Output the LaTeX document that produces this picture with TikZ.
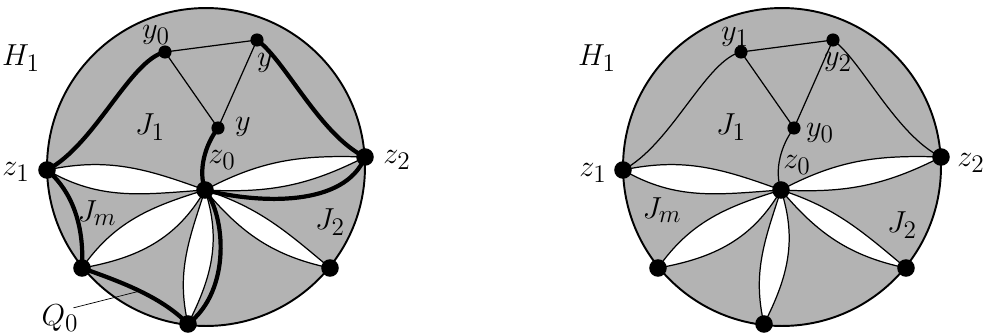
\documentclass[tikz,border=0pt]{standalone}
\definecolor{diskgray}{RGB}{179,179,179}
\tikzset{
  thinline/.style={line width=0.7pt},
  thickline/.style={line width=2.4pt, line cap=round},
  bigdot/.style={circle, fill=black, inner sep=0pt, minimum size=10pt},
  smalldot/.style={circle, fill=black, inner sep=0pt, minimum size=7.5pt},
  lbl/.style={inner sep=0pt, font=\fontsize{19}{22}\selectfont},
}
\newcommand\lens[5]{%
  \fill[white] (z0) to[out=#2,in=#3] (#1) to[out=#5,in=#4] (z0);
  \draw[thinline] (z0) to[out=#2,in=#3] (#1) (z0) to[out=#4,in=#5] (#1);}
\newcommand\basecoords{%
  \coordinate (C) at (206,-167);
  \coordinate (z0) at (205,-190);
  \coordinate (z1) at (47,-170);
  \coordinate (z2) at (365,-157);
  \coordinate (LL) at (82,-268);
  \coordinate (LR) at (330,-268);
  \coordinate (B) at (188,-324);
  \coordinate (ya) at (165,-52);
  \coordinate (yb) at (257,-40);
  \coordinate (yc) at (218,-128);}
\newcommand\basedisk{%
  \fill[diskgray] (C) circle[radius=3.18cm];
  \lens{z1}{160}{12}{184}{-30}
  \lens{z2}{28}{178}{-3}{207}
  \lens{LL}{197}{55}{240}{10}
  \lens{B}{252}{103}{288}{63}
  \lens{LR}{-18}{140}{-50}{168}
  \draw[thinline] (ya) -- (yb) (ya) -- (yc) (yb) -- (yc);}
\newcommand\basedots{%
  \foreach \p in {z0,z1,z2,LL,LR,B} {\node[bigdot] (\p d) at (\p) {};}
  \foreach \p in {ya,yb,yc} {\node[smalldot] (\p d) at (\p) {};}}
\begin{document}
\begin{tikzpicture}[x=0.02cm,y=0.02cm]
\useasboundingbox (0,0) rectangle (995,-335);
% ---------------- left diagram
\begin{scope}[name prefix=L-]
  \basecoords
  \basedisk
  \draw[line width=1.1pt] (C) circle[radius=3.18cm];
  \draw[thickline] (z1) .. controls (95,-145) and (130,-60) .. (ya);
  \draw[thickline] (yb) .. controls (285,-60) and (320,-135) .. (z2);
  \draw[thickline] (yc) .. controls (205,-145) and (198,-170) .. (z0);
  \draw[thickline] (z0) .. controls (260,-204) and (345,-207) .. (z2);
  \draw[thickline] (z0) .. controls (225,-215) and (232,-290) .. (B);
  \draw[thickline] (z1) .. controls (65,-185) and (85,-215) .. (LL);
  \draw[thickline] (LL) .. controls (115,-280) and (160,-295) .. (B);
  \basedots
  \node[lbl] (H) at (21,-58) {$H_1$};
  \node[lbl] (lya) at (156,-35) {$y_0$};
  \node[lbl] (lyb) at (265,-63) {$y$};
  \node[lbl] (lyc) at (243,-127) {$y$};
  \node[lbl] (lJ1) at (150,-127) {$J_1$};
  \node[lbl] (lz0) at (222,-160) {$z_0$};
  \node[lbl] (lz1) at (16,-172) {$z_1$};
  \node[lbl] (lz2) at (397,-160) {$z_2$};
  \node[lbl] (lJm) at (97,-213) {$J_m$};
  \node[lbl] (lJ2) at (330,-222) {$J_2$};
  \node[lbl] (lQ) at (60,-318) {$Q_0$};
  \coordinate (qpt) at (140,-291);
  \draw[line width=0.4pt] ([xshift=-3pt,yshift=-2pt]lQ.north east) -- (qpt);
\end{scope}
% ---------------- right diagram
\begin{scope}[shift={(576,0)}, name prefix=R-]
  \basecoords
  \basedisk
  \draw[line width=1.1pt] (C) circle[radius=3.18cm];
  \draw[thinline] (z1) .. controls (95,-145) and (130,-60) .. (ya);
  \draw[thinline] (yb) .. controls (285,-60) and (320,-135) .. (z2);
  \draw[thinline] (yc) .. controls (205,-145) and (198,-170) .. (z0);
  \basedots
  \node[lbl] (H) at (21,-58) {$H_1$};
  \node[lbl] (lya) at (159,-37) {$y_1$};
  \node[lbl] (lyb) at (262,-62) {$y_2$};
  \node[lbl] (lyc) at (244,-133) {$y_0$};
  \node[lbl] (lJ1) at (155,-127) {$J_1$};
  \node[lbl] (lz0) at (221,-165) {$z_0$};
  \node[lbl] (lz1) at (17,-173) {$z_1$};
  \node[lbl] (lz2) at (395,-163) {$z_2$};
  \node[lbl] (lJm) at (86,-210) {$J_m$};
  \node[lbl] (lJ2) at (326,-225) {$J_2$};
\end{scope}
\end{tikzpicture}
\end{document}
